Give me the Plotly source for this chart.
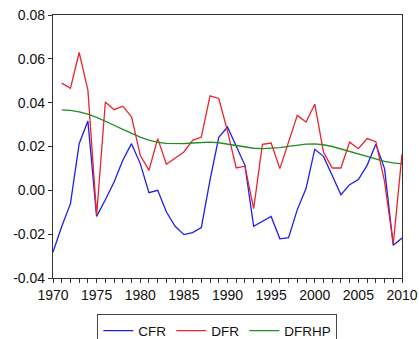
import plotly.graph_objects as go

years = list(range(1970, 2011))

cfr = [-0.0282, -0.0165, -0.0061, 0.0213, 0.0316, -0.0119, -0.0043, 0.0038, 0.0137, 0.0213,
       0.0122, -0.0011, 0.0000, -0.0099, -0.0164, -0.0202, -0.0193, -0.0170, 0.0048, 0.0242,
       0.0289, 0.0205, 0.0114, -0.0164, -0.0142, -0.0119, -0.0221, -0.0216, -0.0088, 0.0008,
       0.0187, 0.0155, 0.0068, -0.0020, 0.0026, 0.0049, 0.0114, 0.0210, 0.0099, -0.0251,
       -0.0218]

dfr_years = list(range(1971, 2011))
dfr = [0.0489, 0.0466, 0.0629, 0.0457, -0.0114, 0.0403, 0.0368, 0.0384, 0.0335, 0.0160,
       0.0091, 0.0236, 0.0119, 0.0149, 0.0175, 0.0228, 0.0243, 0.0431, 0.0419, 0.0270,
       0.0102, 0.0110, -0.0084, 0.0210, 0.0216, 0.0099, 0.0225, 0.0342, 0.0312, 0.0393,
       0.0175, 0.0102, 0.0102, 0.0220, 0.0190, 0.0236, 0.0222, 0.0040, -0.0245, 0.0165]

dfrhp = [0.0367, 0.0365, 0.0358, 0.0348, 0.0333, 0.0316, 0.0297, 0.0278, 0.0260, 0.0243,
         0.0229, 0.0219, 0.0214, 0.0212, 0.0213, 0.0216, 0.0219, 0.0220, 0.0217, 0.0211,
         0.0204, 0.0197, 0.0192, 0.0190, 0.0191, 0.0195, 0.0201, 0.0207, 0.0211, 0.0212,
         0.0208, 0.0200, 0.0189, 0.0177, 0.0165, 0.0153, 0.0142, 0.0132, 0.0125, 0.0121]

x_ticks = [1970, 1975, 1980, 1985, 1990, 1995, 2000, 2005, 2010]
y_ticks = [-0.04, -0.02, 0.00, 0.02, 0.04, 0.06, 0.08]

fig = go.Figure()
fig.add_trace(go.Scatter(x=years, y=cfr, mode="lines", name="CFR",
                         line=dict(color="rgb(30,30,235)", width=1.3)))
fig.add_trace(go.Scatter(x=dfr_years, y=dfr, mode="lines", name="DFR",
                         line=dict(color="rgb(235,35,45)", width=1.3)))
fig.add_trace(go.Scatter(x=dfr_years, y=dfrhp, mode="lines", name="DFRHP",
                         line=dict(color="rgb(35,140,35)", width=1.3)))

fig.update_layout(
    width=419, height=339,
    margin=dict(l=53, r=17, t=15, b=61, autoexpand=False),
    paper_bgcolor="white", plot_bgcolor="white",
    font=dict(family="Liberation Sans, Arial, sans-serif", size=14, color="#111"),
    showlegend=True,
    legend=dict(orientation="h", x=0.127, xanchor="left", y=-0.138, yanchor="top",
                bordercolor="#444", borderwidth=1, font=dict(size=13.5),
                tracegroupgap=0, itemwidth=30),
)
fig.update_xaxes(range=[1970, 2010], tickvals=x_ticks, ticktext=[str(v) for v in x_ticks],
                 showgrid=False, zeroline=False, showline=True, linecolor="#333", linewidth=1.2,
                 mirror=True, ticks="outside", ticklen=4, tickcolor="#333",
                 ticklabeloverflow="allow",
                 minor=dict(dtick=1, ticks="outside", ticklen=4, tickcolor="#333"))
fig.update_yaxes(range=[-0.04, 0.08], tickvals=y_ticks, ticktext=[f"{v:.2f}" for v in y_ticks],
                 showgrid=False, zeroline=False, showline=True, linecolor="#333", linewidth=1.2,
                 mirror=True, ticks="outside", ticklen=4, tickcolor="#333",
                 ticklabeloverflow="allow")

fig.write_html(
    "out.html",
    config={"displayModeBar": False},
    post_script="document.body.style.margin='0';document.body.style.overflow='hidden';",
)
